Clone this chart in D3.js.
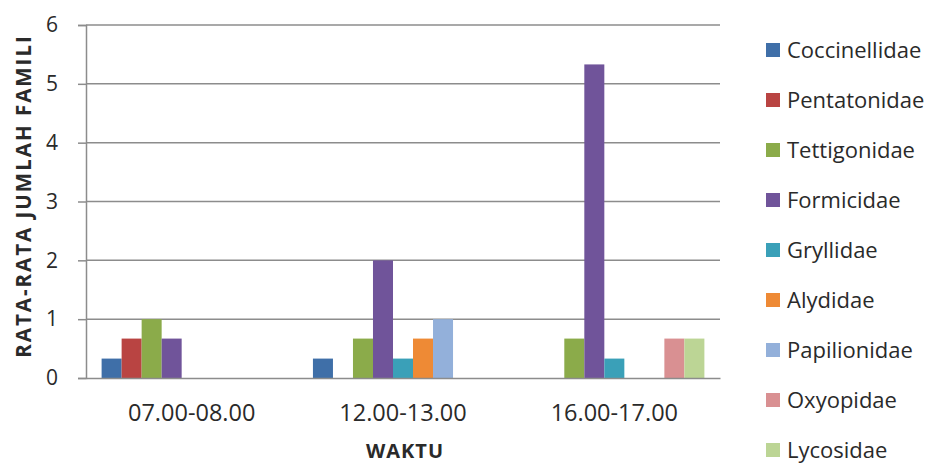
<!DOCTYPE html>
<html><head><meta charset="utf-8">
<script src="https://cdn.jsdelivr.net/npm/d3@7/dist/d3.min.js"></script>
<style>body{margin:0;background:#fff}svg{display:block}text{font-family:"Open Sans",sans-serif;fill:#2a2a2a}</style>
</head><body><svg id="c" width="941" height="466"></svg>
<script>
const categories = ["07.00-08.00", "12.00-13.00", "16.00-17.00"];
const seriesNames = ["Coccinellidae","Pentatonidae","Tettigonidae","Formicidae","Gryllidae","Alydidae","Papilionidae","Oxyopidae","Lycosidae"];
const Coccinellidae = [0.33, 0.33, 0];
const Pentatonidae  = [0.67, 0, 0];
const Tettigonidae  = [1, 0.67, 0.67];
const Formicidae    = [0.67, 2, 5.33];
const Gryllidae     = [0, 0.33, 0.33];
const Alydidae      = [0, 0.67, 0];
const Papilionidae  = [0, 1, 0];
const Oxyopidae     = [0, 0, 0.67];
const Lycosidae     = [0, 0, 0.67];
const seriesValues = [Coccinellidae,Pentatonidae,Tettigonidae,Formicidae,Gryllidae,Alydidae,Papilionidae,Oxyopidae,Lycosidae];
const yTicks = [0,1,2,3,4,5,6];
const colors = ["#3f6fa8","#b94442","#8bab4a","#70549a","#3aa0b8","#ee8a35","#93b0da","#d99092","#bcd595"];

const svg = d3.select("#c");
const mLeft = 86, mRight = 720, mTop = 25, mBottom = 378;
const x0 = d3.scaleBand().domain(categories).range([mLeft, mRight]).paddingInner(0).paddingOuter(0);
const x1 = d3.scaleBand().domain(seriesNames).range([0, x0.bandwidth()]).paddingOuter(0.78).paddingInner(0);
const y = d3.scaleLinear().domain([0, 6]).range([mBottom, mTop]);

// gridlines
svg.append("g").selectAll("line").data(yTicks.filter(d=>d>0)).join("line")
  .attr("x1", mLeft).attr("x2", mRight).attr("y1", d=>y(d)).attr("y2", d=>y(d))
  .attr("stroke", "#8c8c8c").attr("stroke-width", 1.5);

// bars
const g = svg.append("g");
categories.forEach((c, ci) => {
  seriesNames.forEach((s, si) => {
    const v = seriesValues[si][ci];
    if (v > 0) {
      g.append("rect").attr("x", x0(c) + x1(s)).attr("width", x1.bandwidth())
        .attr("y", y(v)).attr("height", y(0) - y(v)).attr("fill", colors[si]);
    }
  });
});

// y axis
const ya = svg.append("g").attr("transform", `translate(${mLeft},0)`)
  .call(d3.axisLeft(y).tickValues(yTicks).tickSize(8).tickPadding(20).tickFormat(d3.format("d")));
ya.select(".domain").attr("stroke", "#8c8c8c").attr("stroke-width", 1.5);
ya.selectAll(".tick line").attr("stroke", "#8c8c8c").attr("stroke-width", 1.5);
ya.selectAll(".tick text").attr("font-size", 21).attr("font-family", "'Open Sans', sans-serif").attr("fill", "#333");

// x axis
const xa = svg.append("g").attr("transform", `translate(0,${mBottom})`)
  .call(d3.axisBottom(x0).tickSize(0).tickPadding(26));
xa.select(".domain").attr("stroke", "#8c8c8c").attr("stroke-width", 1.5);
xa.selectAll(".tick text").attr("font-size", 23.5).attr("font-family", "'Open Sans', sans-serif").attr("fill", "#333");

// titles
svg.append("text").attr("x", 405).attr("y", 458).attr("text-anchor", "middle")
  .attr("font-size", 20).attr("font-weight", "bold").attr("letter-spacing", 1).text("WAKTU");
svg.append("text").attr("transform", `translate(31,${(30+362)/2}) rotate(-90)`).attr("text-anchor", "middle")
  .attr("font-size", 20.5).attr("font-weight", "bold").attr("letter-spacing", 2).text("RATA-RATA JUMLAH FAMILI");

// legend
const lg = svg.append("g").selectAll("g").data(seriesNames).join("g")
  .attr("transform", (d,i)=>`translate(766,${50 + i*50})`);
lg.append("rect").attr("x", 0).attr("y", -7).attr("width", 14).attr("height", 14).attr("fill", (d,i)=>colors[i]);
lg.append("text").attr("x", 21).attr("y", 0).attr("dy", "0.35em").attr("font-size", 22).attr("fill", "#333").text(d=>d);
</script></body></html>
